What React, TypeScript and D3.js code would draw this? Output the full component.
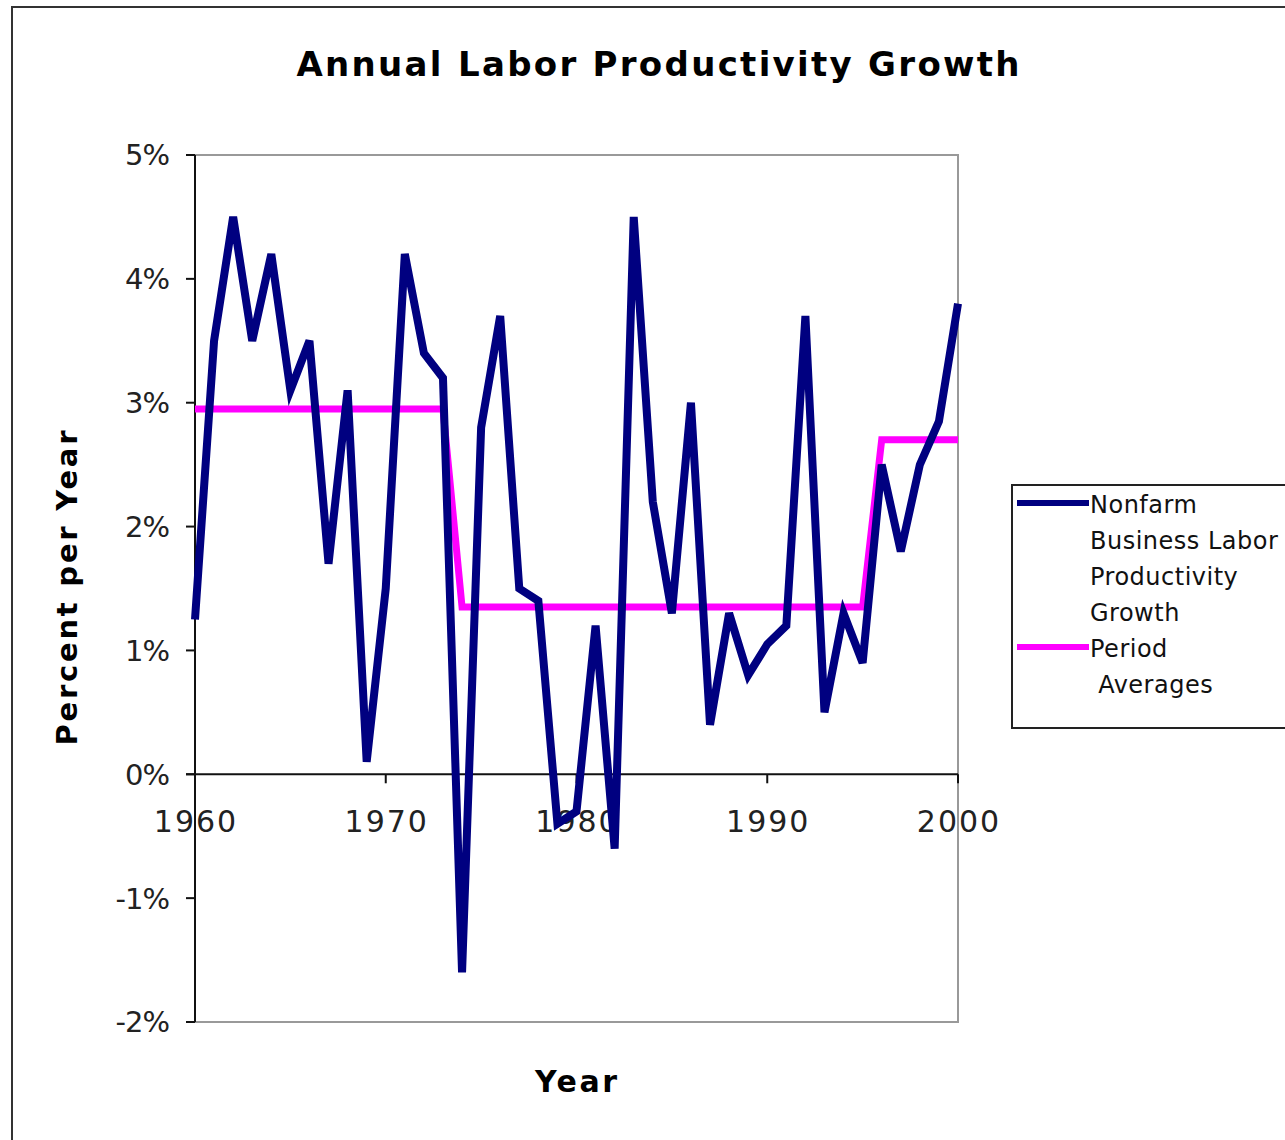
// App.tsx
import * as d3 from 'd3';

const years = d3.range(1960, 2001);
const productivity = [
  1.25, 3.5, 4.5, 3.5, 4.2, 3.1, 3.5, 1.7, 3.1, 0.1,
  1.5, 4.2, 3.4, 3.2, -1.6, 2.8, 3.7, 1.5, 1.4, -0.4,
  -0.3, 1.2, -0.6, 4.5, 2.2, 1.3, 3.0, 0.4, 1.3, 0.8,
  1.05, 1.2, 3.7, 0.5, 1.3, 0.9, 2.5, 1.8, 2.5, 2.85,
  3.8,
];
const periodAverages = [
  2.95, 2.95, 2.95, 2.95, 2.95, 2.95, 2.95, 2.95, 2.95, 2.95,
  2.95, 2.95, 2.95, 2.95, 1.35, 1.35, 1.35, 1.35, 1.35, 1.35,
  1.35, 1.35, 1.35, 1.35, 1.35, 1.35, 1.35, 1.35, 1.35, 1.35,
  1.35, 1.35, 1.35, 1.35, 1.35, 1.35, 2.7, 2.7, 2.7, 2.7,
  2.7,
];
const yTicks = [5, 4, 3, 2, 1, 0, -1, -2];
const xTicks = [1960, 1970, 1980, 1990, 2000];
const legendLines = [
  { color: '#000080', lines: ['Nonfarm', 'Business Labor', 'Productivity', 'Growth'] },
  { color: '#ff00ff', lines: ['Period', ' Averages'] },
];

const W = 1285;
const H = 1140;
const plot = { left: 195, right: 958, top: 155, bottom: 1022 };

export default function App() {
  const x = d3.scaleLinear().domain([1960, 2000]).range([plot.left, plot.right]);
  const y = d3.scaleLinear().domain([-2, 5]).range([plot.bottom, plot.top]);

  const line = d3.line<number>()
    .x((_, i) => x(years[i]))
    .y((d) => y(d));

  const font = '"DejaVu Sans", Verdana, sans-serif';

  return (
    <svg width={W} height={H} style={{ position: 'absolute', left: 0, top: 0, background: '#fff' }}>
      <rect x={0} y={0} width={W} height={H} fill="#fff" />
      {/* outer chart frame */}
      <rect x={12} y={7} width={W + 20} height={H + 20} fill="none" stroke="#333" strokeWidth={2} />

      <text x={658} y={76} textAnchor="middle" fontFamily={font} fontWeight="bold" fontSize={34}
        textLength={723} lengthAdjust="spacing" fill="#000">
        Annual Labor Productivity Growth
      </text>

      {/* plot frame */}
      <rect x={plot.left} y={plot.top} width={plot.right - plot.left} height={plot.bottom - plot.top}
        fill="none" stroke="#999" strokeWidth={2} />

      {/* y axis */}
      <line x1={plot.left} x2={plot.left} y1={plot.top} y2={plot.bottom} stroke="#111" strokeWidth={2} />
      {yTicks.map((t) => (
        <g key={t}>
          <line x1={plot.left - 9} x2={plot.left} y1={y(t)} y2={y(t)} stroke="#111" strokeWidth={2} />
          <text x={169} y={y(t)} dy="0.36em" textAnchor="end" fontFamily={font} fontSize={29}
            fill="#222" letterSpacing={-1}>
            {t}%
          </text>
        </g>
      ))}

      {/* x axis at 0% */}
      <line x1={plot.left - 9} x2={plot.right} y1={y(0)} y2={y(0)} stroke="#111" strokeWidth={2} />
      {xTicks.map((t) => (
        <g key={t}>
          <line x1={x(t)} x2={x(t)} y1={y(0)} y2={y(0) + 9} stroke="#111" strokeWidth={2} />
          <text x={x(t) + 1} y={832} textAnchor="middle" fontFamily={font} fontSize={30}
            fill="#222" letterSpacing={2}>
            {t}
          </text>
        </g>
      ))}

      {/* series */}
      <path d={line(periodAverages) || ''} fill="none" stroke="#ff00ff" strokeWidth={7} strokeLinejoin="miter" />
      <path d={line(productivity) || ''} fill="none" stroke="#000080" strokeWidth={8} strokeLinejoin="miter" />

      {/* axis titles */}
      <text transform="translate(77,588) rotate(-90)" textAnchor="middle" fontFamily={font} fontWeight="bold"
        fontSize={29} textLength={315} lengthAdjust="spacing" fill="#000">
        Percent per Year
      </text>
      <text x={576} y={1092} textAnchor="middle" fontFamily={font} fontWeight="bold" fontSize={30}
        textLength={82} lengthAdjust="spacing" fill="#000">
        Year
      </text>

      {/* legend */}
      <rect x={1012} y={485} width={300} height={243} fill="#fff" stroke="#222" strokeWidth={2} />
      {legendLines.map((item, i) => {
        const top = i === 0 ? 503 : 647;
        return (
          <g key={i}>
            <line x1={1017} x2={1089} y1={top} y2={top} stroke={item.color} strokeWidth={6} />
            {item.lines.map((s, j) => (
              <text key={j} x={1090} y={top + 10 + j * 36} fontFamily={font} fontSize={24}
                fill="#111" letterSpacing={0.5} style={{ whiteSpace: 'pre' }}>
                {s}
              </text>
            ))}
          </g>
        );
      })}
    </svg>
  );
}
